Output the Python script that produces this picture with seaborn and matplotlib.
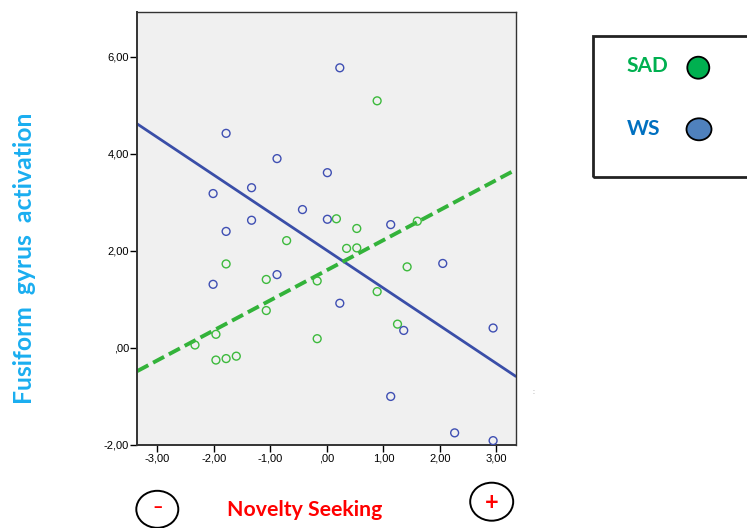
import matplotlib
matplotlib.use("Agg")
import matplotlib.pyplot as plt
from matplotlib.patches import Ellipse, Rectangle
import numpy as np
import pandas as pd
import seaborn as sns

# Novelty seeking (x) and fusiform gyrus activation (y) per participant
sad_x = [0.89, 0.17, 0.53, 1.60, -0.71, 0.35, 0.53, -1.78, 1.42, -1.07,
         -0.17, 0.89, -1.07, 1.25, -1.96, -0.17, -2.33, -1.96, -1.78, -1.60]
sad_y = [5.09, 2.66, 2.46, 2.61, 2.21, 2.05, 2.06, 1.73, 1.67, 1.41,
         1.38, 1.16, 0.77, 0.49, 0.28, 0.19, 0.06, -0.25, -0.22, -0.17]
ws_x = [0.23, -1.78, -0.88, 0.01, -2.01, -1.33, -0.43, -1.33, 0.01, 1.13,
        -1.78, -2.01, -0.88, 2.05, 0.23, 1.36, 2.94, 1.13, 2.26, 2.94]
ws_y = [5.77, 4.42, 3.90, 3.61, 3.18, 3.30, 2.85, 2.63, 2.65, 2.54,
        2.40, 1.31, 1.51, 1.74, 0.92, 0.36, 0.41, -1.00, -1.75, -1.91]

# Linear fit lines (intercept, slope) for each group
sad_fit = (1.60, 0.620)
ws_fit = (2.01, -0.777)

x_ticks = [-3, -2, -1, 0, 1, 2, 3]
x_tick_labels = ["-3,00", "-2,00", "-1,00", ",00", "1,00", "2,00", "3,00"]
y_ticks = [-2, 0, 2, 4, 6]
y_tick_labels = ["-2,00", ",00", "2,00", "4,00", "6,00"]

df = pd.DataFrame({
    "x": sad_x + ws_x,
    "y": sad_y + ws_y,
    "group": ["SAD"] * len(sad_x) + ["WS"] * len(ws_x),
})

sns.set_theme(style="white")
plt.rcParams["font.family"] = ["Liberation Sans", "DejaVu Sans"]

fig = plt.figure(figsize=(7.47, 5.28), dpi=100)
ax = fig.add_axes([0.1838, 0.1572, 0.5066, 0.8201])
ax.set_facecolor("#f0f0f0")

xlim = (-3.35, 3.34)
ylim = (-2.0, 6.92)

marker_cols = {"SAD": "#3dba3d", "WS": "#3f4fb3"}
sns.scatterplot(data=df, x="x", y="y", hue="group", palette=marker_cols,
                marker="o", s=32, facecolors="none", linewidth=1.0,
                legend=False, ax=ax, zorder=3)
# hollow markers: set edge colours from the palette
coll = ax.collections[0]
edge = [marker_cols[g] for g in df["group"]]
coll.set_edgecolors(edge)
coll.set_facecolors("none")

xs = np.array(xlim)
ax.plot(xs, ws_fit[0] + ws_fit[1] * xs, color="#3a4ea8", lw=2.0, zorder=2)
ax.plot(xs, sad_fit[0] + sad_fit[1] * xs, color="#33b33a", lw=2.8,
        ls=(0, (3.2, 1.4)), zorder=2)

ax.set_xlim(*xlim)
ax.set_ylim(*ylim)
ax.set_xticks(x_ticks)
ax.set_xticklabels(x_tick_labels)
ax.set_yticks(y_ticks)
ax.set_yticklabels(y_tick_labels)
ax.tick_params(axis="both", which="both", direction="out", length=5, width=1.0,
               color="black", labelsize=8, labelcolor="black", pad=1,
               bottom=True, left=True)
ax.set_xlabel("")
ax.set_ylabel("")
for sp in ax.spines.values():
    sp.set_visible(True)
    sp.set_color("#333333")
    sp.set_linewidth(1.0)
ax.spines["left"].set_linewidth(1.4)
ax.spines["bottom"].set_linewidth(1.4)

bold_font = ["Lato", "DejaVu Sans"]

# axis titles
fig.text(25 / 747, 1 - 258 / 528, "Fusiform  gyrus  activation", rotation=90,
         ha="center", va="center", color="#1aaef0", fontsize=17.8,
         fontweight="bold", family=bold_font)
fig.text(305 / 747, 1 - 510 / 528, "Novelty Seeking", ha="center", va="center",
         color="#ff0000", fontsize=15.3, fontweight="bold", family=bold_font)

# "-" and "+" markers in circles
fig.patches.append(Ellipse((157.3 / 747, 1 - 509.3 / 528), 42 / 747, 37 / 528,
                           transform=fig.transFigure, fill=False,
                           edgecolor="black", lw=1.4))
fig.text(157.3 / 747, 1 - 508 / 528, "\u2013", ha="center", va="center",
         color="#ff0000", fontsize=13, fontweight="bold", family=bold_font)
fig.patches.append(Ellipse((491.7 / 747, 1 - 501.7 / 528), 43 / 747, 38 / 528,
                           transform=fig.transFigure, fill=False,
                           edgecolor="black", lw=1.4))
fig.text(491.7 / 747, 1 - 502 / 528, "+", ha="center", va="center",
         color="#ff0000", fontsize=17, fontweight="bold", family=bold_font)

# small stray mark to the right of the plot
fig.text(533 / 747, 1 - 393 / 528, ":", ha="center", va="center",
         color="#888888", fontsize=5)

# group key box
fig.patches.append(Rectangle((593 / 747, 1 - 177 / 528), 160 / 747, 141 / 528,
                             transform=fig.transFigure, fill=False,
                             edgecolor="#222222", lw=2.0))
fig.text(647.7 / 747, 1 - 65.7 / 528, "SAD", ha="center", va="center",
         color="#00b050", fontsize=15, fontweight="bold", family=bold_font)
fig.patches.append(Ellipse((698.3 / 747, 1 - 67.7 / 528), 22 / 747, 22 / 528,
                           transform=fig.transFigure, facecolor="#00b050",
                           edgecolor="black", lw=1.3))
fig.text(643.3 / 747, 1 - 129.3 / 528, "WS", ha="center", va="center",
         color="#0070c0", fontsize=15, fontweight="bold", family=bold_font)
fig.patches.append(Ellipse((699 / 747, 1 - 129.3 / 528), 25 / 747, 22 / 528,
                           transform=fig.transFigure, facecolor="#4f81bd",
                           edgecolor="black", lw=1.3))

fig.savefig("out.png", dpi=100, facecolor="white")
